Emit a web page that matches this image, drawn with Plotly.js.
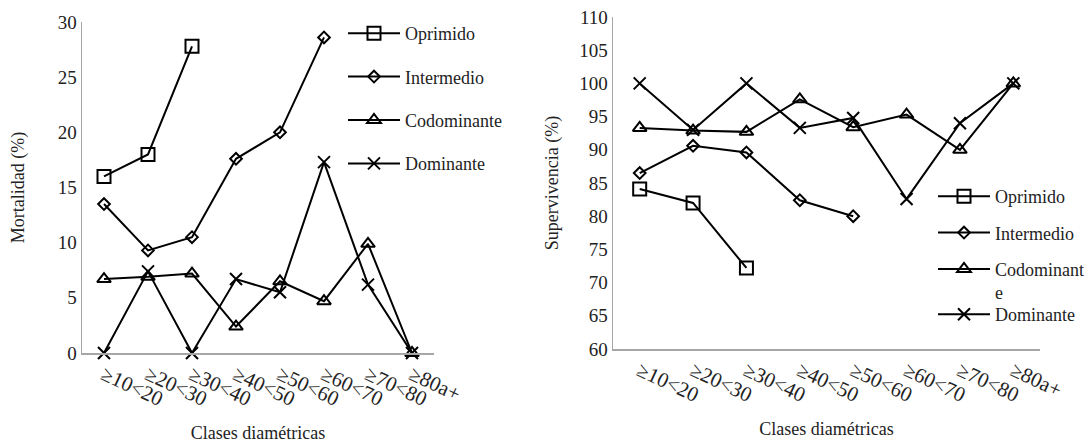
<!DOCTYPE html>
<html>
<head>
<meta charset="utf-8">
<script src="https://cdn.plot.ly/plotly-3.0.1.min.js"></script>
<style>html,body{margin:0;padding:0;background:#fff;}#chart{width:1092px;height:444px;}</style>
</head>
<body>
<div id="chart"></div>
<script>
// Categories (diameter classes)
var categories = ['≥10<20', '≥20<30', '≥30<40', '≥40<50', '≥50<60', '≥60<70', '≥70<80', '≥80a+'];

// Mortalidad (%)
var mortOprimido    = [16, 18, 27.8, null, null, null, null, null];
var mortIntermedio  = [13.5, 9.3, 10.5, 17.6, 20, 28.6, null, null];
var mortCodominante = [6.7, 6.9, 7.2, 2.4, 6.5, 4.7, 9.9, 0];
var mortDominante   = [0, 7.4, 0, 6.7, 5.5, 17.3, 6.2, 0];

// Supervivencia (%)
var supOprimido    = [84.1, 82, 72.2, null, null, null, null, null];
var supIntermedio  = [86.5, 90.6, 89.6, 82.4, 80, null, null, null];
var supCodominante = [93.3, 92.9, 92.7, 97.6, 93.4, 95.3, 90.0, 100];
var supDominante   = [100, 93, 100, 93.3, 94.8, 82.6, 94.0, 100];

var seriesNames = ['Oprimido', 'Intermedio', 'Codominante', 'Dominante'];
var rightLegendNames = ['Oprimido', 'Intermedio', 'Codominant<br>e', 'Dominante'];
var rightLegendIds = ['legend2', 'legend2', 'legend2', 'legend3'];

var FONT = 'Liberation Serif';
var symbols = ['square-open', 'diamond-open', 'triangle-up-open', 'x-thin-open'];
var sizes = [13, 9, 12, 12];

function mk(y, i, xa, ya, leg, name) {
  return {
    x: categories, y: y, type: 'scatter', mode: 'lines+markers',
    name: name, xaxis: xa, yaxis: ya, legend: leg,
    legendgroup: leg + i,
    connectgaps: false, cliponaxis: false,
    line: {color: '#000', width: 2},
    marker: {symbol: symbols[i], size: sizes[i], color: '#000', line: {color: '#000', width: 2}}
  };
}

var left = [mortOprimido, mortIntermedio, mortCodominante, mortDominante];
var right = [supOprimido, supIntermedio, supCodominante, supDominante];
var data = [];
left.forEach(function (s, i) { data.push(mk(s, i, 'x', 'y', 'legend', seriesNames[i])); });
right.forEach(function (s, i) { data.push(mk(s, i, 'x2', 'y2', rightLegendIds[i], rightLegendNames[i])); });

var tickFont = {family: FONT, size: 19, color: '#222'};
var xTickFont = {family: FONT, size: 21, color: '#222'};
var titleFont = {family: FONT, size: 18, color: '#222'};
var legendFont = {family: FONT, size: 18, color: '#222'};
var axisCommon = {
  showgrid: false, zeroline: false, showline: true, linecolor: '#a6a6a6', linewidth: 1.5,
  ticks: '', tickfont: tickFont
};

var layout = {
  width: 1092, height: 444,
  margin: {l: 0, r: 0, t: 0, b: 0},
  paper_bgcolor: '#fff', plot_bgcolor: '#fff',
  font: {family: FONT, color: '#222'},
  xaxis: Object.assign({}, axisCommon, {
    domain: [82 / 1092, 434 / 1092], anchor: 'y', type: 'category', range: [-0.5, 7.5],
    tickangle: 25, tickfont: xTickFont,
    title: {text: 'Clases diamétricas', font: titleFont, standoff: 16}
  }),
  yaxis: Object.assign({}, axisCommon, {
    domain: [1 - 353 / 444, 1 - 22 / 444], anchor: 'x', range: [0, 30], dtick: 5,
    title: {text: 'Mortalidad (%)', font: titleFont, standoff: 28}
  }),
  xaxis2: Object.assign({}, axisCommon, {
    domain: [613 / 1092, 1040 / 1092], anchor: 'y2', type: 'category', range: [-0.5, 7.5],
    tickangle: 25, tickfont: xTickFont,
    title: {text: 'Clases diamétricas', font: titleFont, standoff: 16}
  }),
  yaxis2: Object.assign({}, axisCommon, {
    domain: [1 - 349 / 444, 1 - 17 / 444], anchor: 'x2', range: [60, 110], dtick: 5,
    title: {text: 'Supervivencia (%)', font: titleFont, standoff: 16}
  }),
  legend: {
    x: 343 / 1092, xanchor: 'left', y: 1 - 15 / 444, yanchor: 'top',
    font: legendFont, itemwidth: 52,
    traceorder: 'grouped', tracegroupgap: 17, bgcolor: 'rgba(0,0,0,0)'
  },
  legend2: {
    x: 933 / 1092, xanchor: 'left', y: 1 - 178 / 444, yanchor: 'top',
    font: legendFont, itemwidth: 52,
    traceorder: 'grouped', tracegroupgap: 10, bgcolor: 'rgba(0,0,0,0)', valign: 'top'
  },
  legend3: {
    x: 933 / 1092, xanchor: 'left', y: 1 - 296 / 444, yanchor: 'top',
    font: legendFont, itemwidth: 52,
    bgcolor: 'rgba(0,0,0,0)'
  },
  showlegend: true
};

Plotly.newPlot('chart', data, layout, {staticPlot: true, displayModeBar: false});
</script>
</body>
</html>
